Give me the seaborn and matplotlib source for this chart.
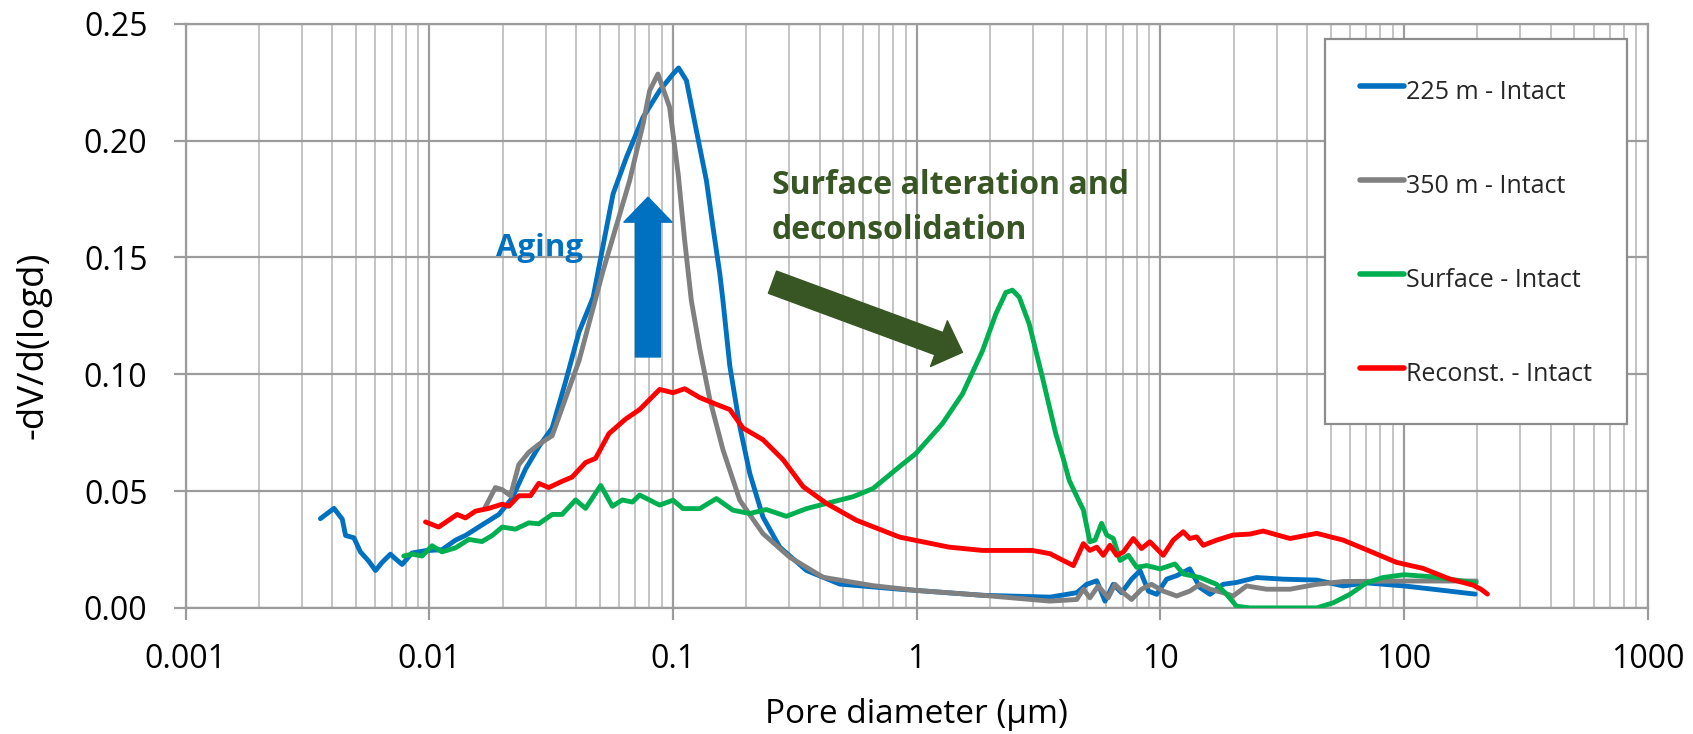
import numpy as np
import pandas as pd
import matplotlib
matplotlib.use("Agg")
import matplotlib.pyplot as plt
from matplotlib.patches import FancyArrowPatch, ArrowStyle
import seaborn as sns

# Pore size distributions: diameter (µm) and -dV/d(logd)
d_225 = [0.00357, 0.00406, 0.00439, 0.00453, 0.00490, 0.00521, 0.00564, 0.00601, 0.00640,
         0.00692, 0.00726, 0.00773, 0.00849, 0.00964, 0.01127, 0.0128, 0.01406, 0.01644,
         0.01928, 0.02188, 0.02483, 0.02812, 0.03192, 0.03622, 0.04111, 0.04699, 0.05675,
         0.06442, 0.07534, 0.08810, 0.1000, 0.1054, 0.1135, 0.1247, 0.1371, 0.1459, 0.1556,
         0.1603, 0.1710, 0.1879, 0.2065, 0.2339, 0.2742, 0.3532, 0.4831, 0.8511, 1.862,
         3.524, 4.539, 4.989, 5.483, 5.929, 6.412, 6.934, 7.621, 8.260, 8.933, 9.661, 10.62,
         11.67, 13.21, 14.55, 16.00, 18.11, 20.56, 24.83, 31.92, 43.85, 56.36, 70.1, 100.0,
         131.5, 196.0]
v_225 = [0.0382, 0.0426, 0.0380, 0.0310, 0.0300, 0.0240, 0.0200, 0.0160, 0.0195,
         0.0230, 0.0210, 0.0186, 0.0235, 0.0245, 0.0249, 0.0290, 0.0310, 0.0355,
         0.0400, 0.0470, 0.0595, 0.0690, 0.0770, 0.0968, 0.1180, 0.1329, 0.1772,
         0.1929, 0.2100, 0.2214, 0.2285, 0.2311, 0.2257, 0.2043, 0.1829, 0.1629, 0.1430,
         0.1315, 0.1036, 0.0777, 0.0576, 0.0389, 0.0260, 0.0160, 0.0102, 0.0080, 0.0054,
         0.0046, 0.0065, 0.0101, 0.0116, 0.0029, 0.0101, 0.0065, 0.0123, 0.0159, 0.0072, 0.0058, 0.0123,
         0.0138, 0.0167, 0.0087, 0.0058, 0.0101, 0.0109, 0.0130, 0.0123, 0.0119, 0.0094, 0.0107, 0.0094,
         0.0080, 0.0059]

d_350 = [0.01686, 0.01866, 0.01991, 0.02153, 0.02328, 0.02559, 0.02812, 0.03192, 0.03622,
         0.04111, 0.05164, 0.06637, 0.07534, 0.08017, 0.08670, 0.09683, 0.1050, 0.1117,
         0.1189, 0.1288, 0.1416, 0.1603, 0.1879, 0.2339, 0.3013, 0.4130, 0.6622, 0.991,
         1.862, 3.524, 4.539, 4.831, 5.140, 5.559, 6.109, 6.516, 7.047, 7.621, 8.375, 9.204,
         10.28, 11.67, 13.21, 14.55, 16.00, 18.11, 19.91, 22.59, 27.29, 34.04, 43.85, 56.36,
         100.0, 139.0, 198.0]
v_350 = [0.0426, 0.0515, 0.0506, 0.0480, 0.0613, 0.0666, 0.0700, 0.0737, 0.0897,
         0.1057, 0.1443, 0.1829, 0.2071, 0.2214, 0.2285, 0.2143, 0.1857, 0.1570,
         0.1315, 0.1108, 0.0892, 0.0677, 0.0461, 0.0318, 0.0217, 0.0131, 0.0095, 0.0075,
         0.0054, 0.0029, 0.0036, 0.0080, 0.0043, 0.0094, 0.0043, 0.0101, 0.0065, 0.0036, 0.0080, 0.0101,
         0.0072, 0.0051, 0.0072, 0.0101, 0.0080, 0.0065, 0.0051, 0.0094, 0.0080, 0.0080, 0.0101, 0.0113,
         0.0115, 0.0115, 0.0115]

d_surf = [0.00785, 0.00849, 0.00933, 0.01026, 0.01127, 0.0128, 0.01452, 0.01644, 0.01811,
          0.01991, 0.02254, 0.02559, 0.02812, 0.03192, 0.03506, 0.03981, 0.04375, 0.04732,
          0.05047, 0.05636, 0.06194, 0.06808, 0.07295, 0.08810, 0.1000, 0.1099, 0.1288, 0.1507,
          0.1762, 0.2065, 0.2415, 0.2917, 0.3532, 0.4266, 0.5483, 0.6622, 0.8511, 0.991, 1.274,
          1.542, 1.862, 2.113, 2.323, 2.472, 2.636, 2.897, 3.281, 3.724, 4.000, 4.227, 4.677,
          4.831, 5.140, 5.395, 5.741, 6.026, 6.412, 6.839, 7.396, 7.998, 8.790, 9.977, 11.48,
          12.45, 14.55, 17.02, 18.71, 20.56, 23.33, 43.85, 51.29, 59.98, 70.1, 82.0, 100.0,
          131.5, 197.7]
v_surf = [0.0222, 0.0230, 0.0222, 0.0266, 0.0240, 0.0257, 0.0293, 0.0284, 0.0310,
          0.0346, 0.0337, 0.0364, 0.0360, 0.0400, 0.0400, 0.0462, 0.0426, 0.0480,
          0.0524, 0.0435, 0.0462, 0.0453, 0.0483, 0.0440, 0.0461, 0.0425, 0.0425, 0.0468,
          0.0418, 0.0404, 0.0421, 0.0392, 0.0425, 0.0447, 0.0476, 0.0511, 0.0605, 0.0660, 0.0788,
          0.0916, 0.1100, 0.1258, 0.1350, 0.1360, 0.1330, 0.1215, 0.0987, 0.0745, 0.0638, 0.0546, 0.0449,
          0.0420, 0.0283, 0.0290, 0.0362, 0.0312, 0.0297, 0.0203, 0.0225, 0.0174, 0.0181, 0.0167, 0.0188,
          0.0145, 0.0130, 0.0101, 0.0058, 0.0007, 0.0000, 0.0000, 0.0022, 0.0058, 0.0107, 0.0130, 0.0142,
          0.0133, 0.0107]

d_rec = [0.00964, 0.01091, 0.0130, 0.01406, 0.01545, 0.01754, 0.01991, 0.02118, 0.02328,
         0.0260, 0.02812, 0.0309, 0.03506, 0.03855, 0.04375, 0.04808, 0.05458, 0.06383,
         0.07295, 0.08810, 0.1000, 0.1117, 0.1288, 0.1507, 0.1710, 0.1936, 0.2339, 0.2831,
         0.3420, 0.4266, 0.5662, 0.8511, 0.991, 1.358, 1.862, 2.985, 3.524, 4.395, 4.831,
         5.140, 5.483, 5.834, 6.209, 6.622, 7.047, 7.745, 8.375, 9.057, 10.28, 11.30, 12.42,
         13.21, 14.09, 15.00, 17.02, 19.91, 23.33, 26.42, 34.04, 43.85, 56.36, 70.1, 93.1,
         119.7, 153.8, 191.4, 207.0, 220.0]
v_rec = [0.0368, 0.0346, 0.0400, 0.0385, 0.0414, 0.0426, 0.0444, 0.0435, 0.0480,
         0.0480, 0.0533, 0.0515, 0.0542, 0.0560, 0.0622, 0.0640, 0.0746, 0.0808,
         0.0849, 0.0935, 0.0921, 0.0938, 0.0900, 0.0871, 0.0849, 0.0770, 0.0720, 0.0634,
         0.0519, 0.0447, 0.0375, 0.0303, 0.0289, 0.0260, 0.0246, 0.0246, 0.0232, 0.0181, 0.0275,
         0.0246, 0.0260, 0.0225, 0.0268, 0.0225, 0.0239, 0.0297, 0.0254, 0.0283, 0.0225, 0.0290, 0.0326,
         0.0297, 0.0304, 0.0268, 0.0290, 0.0312, 0.0316, 0.0329, 0.0297, 0.0319, 0.0290, 0.0249, 0.0195,
         0.0169, 0.0124, 0.0098, 0.0080, 0.0059]

series_labels = ["225 m - Intact", "350 m - Intact", "Surface - Intact", "Reconst. - Intact"]
series_colors = ["#0070C0", "#808080", "#00B050", "#FF0000"]

x_ticks = [0.001, 0.01, 0.1, 1, 10, 100, 1000]
x_tick_labels = ["0.001", "0.01", "0.1", "1", "10", "100", "1000"]
y_ticks = [0.00, 0.05, 0.10, 0.15, 0.20, 0.25]
y_tick_labels = ["0.00", "0.05", "0.10", "0.15", "0.20", "0.25"]

sns.set_theme(style="white")
plt.rcParams["font.family"] = ["Open Sans", "DejaVu Sans"]

fig = plt.figure(figsize=(16.93, 7.34), dpi=100)
ax = fig.add_axes([0.1097, 0.1718, 0.8635, 0.7958])

grid_major = "#9c9c9c"
grid_minor = "#c4c4c4"

for d, v, lab, col in zip([d_225, d_350, d_surf, d_rec], [v_225, v_350, v_surf, v_rec],
                          series_labels, series_colors):
    df = pd.DataFrame({"d": d, "v": v})
    sns.lineplot(data=df, x="d", y="v", ax=ax, color=col, linewidth=3.5,
                 label=lab, estimator=None, sort=False, zorder=3,
                 solid_joinstyle="round", solid_capstyle="round")

ax.set_xscale("log")
ax.set_xlim(0.001, 1000)
ax.set_ylim(0, 0.25)
ax.set_xticks(x_ticks)
ax.set_xticklabels(x_tick_labels)
ax.set_yticks(y_ticks)
ax.set_yticklabels(y_tick_labels)
ax.xaxis.set_minor_locator(matplotlib.ticker.LogLocator(base=10, subs=np.arange(2, 10), numticks=20))
ax.xaxis.set_minor_formatter(matplotlib.ticker.NullFormatter())

ax.grid(True, which="major", axis="both", color=grid_major, linewidth=1.6, zorder=0)
ax.grid(True, which="minor", axis="x", color=grid_minor, linewidth=1.4, zorder=0)
ax.set_axisbelow(True)
for s in ax.spines.values():
    s.set_color(grid_major)
    s.set_linewidth(1.6)

ax.tick_params(axis="x", which="major", direction="out", length=8.6, width=1.6,
               color=grid_major, pad=17, labelsize=23, labelcolor="black")
ax.tick_params(axis="x", which="minor", length=0)
ax.tick_params(axis="y", which="major", direction="out", length=8.6, width=1.6,
               color=grid_major, pad=19, labelsize=23, labelcolor="black")
ax.tick_params(left=True, bottom=True)

ax.set_xlabel("Pore diameter (µm)", fontsize=24, color="black")
ax.set_ylabel("-dV/d(logd)", fontsize=26.5, color="black")
ax.xaxis.set_label_coords(0.5, -0.154)
ax.yaxis.set_label_coords(-0.0917, 0.45)

leg = ax.legend(loc="upper right", bbox_to_anchor=(0.986, 0.974), borderaxespad=0,
                frameon=True, fancybox=False, framealpha=1, edgecolor="#8c8c8c",
                fontsize=18, labelspacing=2.45, handlelength=1.75, handleheight=1.64,
                handletextpad=0.1, borderpad=1.4)
leg.get_frame().set_linewidth(1.6)
for h in leg.get_lines():
    h.set_linewidth(4.0)

# Annotations
ax.text(0.02844, 0.1539, "Aging", color="#0070C0", fontsize=22.5, fontweight="bold",
        ha="center", va="center", zorder=5)
ax.add_patch(FancyArrowPatch(posA=(0.0789, 0.1074), posB=(0.0789, 0.1758),
                             arrowstyle=ArrowStyle.Simple(head_length=18, head_width=34.6, tail_width=18),
                             mutation_scale=1, color="#0070C0", shrinkA=0, shrinkB=0, zorder=5))

ax.text(0.2546, 0.1712, "Surface alteration and\ndeconsolidation", color="#375623",
        fontsize=23, fontweight="bold", ha="left", va="center", linespacing=1.45, zorder=5)
ax.add_patch(FancyArrowPatch(posA=(0.256, 0.1394), posB=(1.541, 0.1094),
                             arrowstyle=ArrowStyle.Simple(head_length=18, head_width=35, tail_width=17),
                             mutation_scale=1, color="#375623", shrinkA=0, shrinkB=0, zorder=5))

fig.savefig("out.png", dpi=100)
